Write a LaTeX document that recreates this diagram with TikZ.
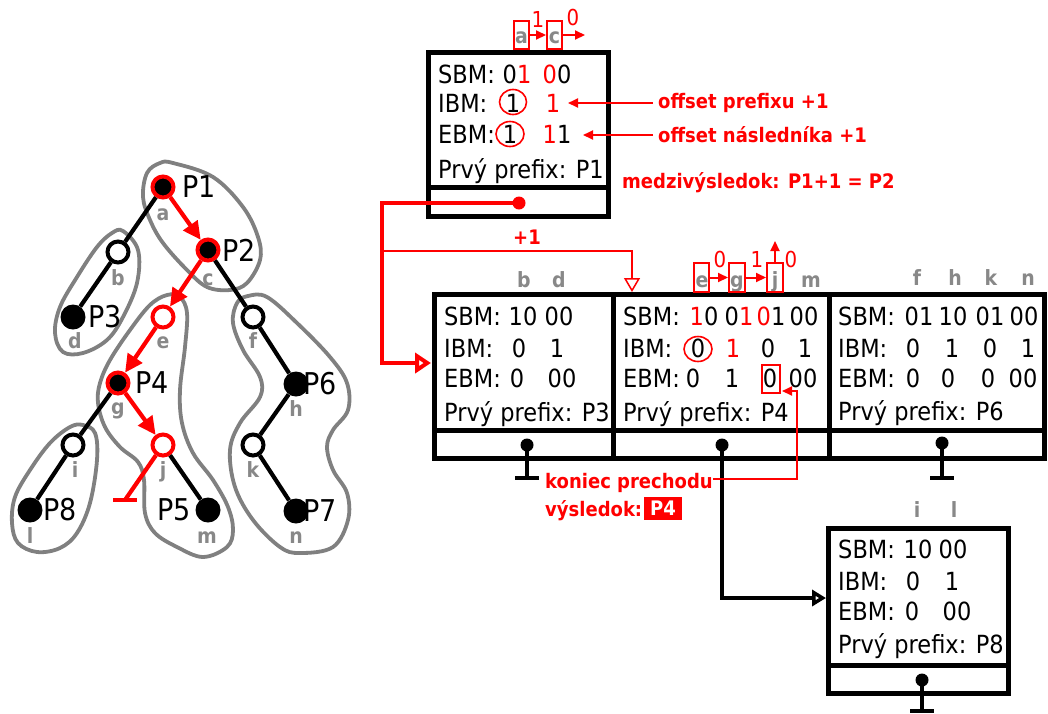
\documentclass[tikz,border=0pt]{standalone}
\usepackage{fontspec}
\setmainfont{DejaVu Sans}[FakeStretch=0.9]
\usetikzlibrary{arrows.meta}
\definecolor{blobgray}{RGB}{128,128,128}
\definecolor{labgray}{RGB}{136,136,136}
\begin{document}
\begin{tikzpicture}[x=1pt,y=-1pt,
  blob/.style={draw=blobgray,line width=3.8pt},
  tedge/.style={line width=4.2pt},
  redge/.style={draw=red,line width=4.2pt,-{Triangle[length=18pt,width=17pt]}},
  wn/.style={circle,draw=black,fill=white,line width=4pt,minimum size=21pt,inner sep=0pt},
  rwn/.style={wn,draw=red},
  bn/.style={circle,fill=black,minimum size=25pt,inner sep=0pt},
  rbn/.style={circle,fill=black,draw=red,line width=4pt,minimum size=21pt,inner sep=0pt},
  plab/.style={font=\fontsize{30}{32}\selectfont,inner sep=0pt},
  glab/.style={font=\bfseries\fontsize{21}{23}\selectfont,text=labgray,inner sep=0pt,anchor=base},
  tx/.style={font=\fontsize{25}{28}\selectfont,inner sep=0pt,anchor=base west},
  dg/.style={font=\fontsize{25}{28}\selectfont,inner sep=0pt,anchor=base},
  rlab/.style={font=\bfseries\fontsize{20}{22}\selectfont,text=red,inner sep=0pt},
  smr/.style={font=\fontsize{22}{24}\selectfont,text=red,inner sep=0pt},
  boxframe/.style={draw,line width=5pt},
  thinr/.style={draw=red,line width=2pt},
  rbox/.style={draw=red,line width=2pt,minimum width=15pt,minimum height=28pt,inner sep=0pt},
  ringmark/.style={draw=red,line width=1.6pt},
  ptr/.style={line width=4.5pt},
  dotb/.style={circle,fill=black,minimum size=13pt,inner sep=0pt},
  dotr/.style={circle,fill=red,minimum size=13pt,inner sep=0pt},
  smallarrow/.style={thinr,-{Triangle[length=10pt,width=9pt]}}
]
\useasboundingbox (0,0) rectangle (1048,713);

% ---------- blobs ----------
\draw[blob] plot[smooth cycle,tension=0.6] coordinates {(123,231) (138,250) (137,283) (123,317) (107,340) (83,353) (63,352) (55,333) (60,307) (77,277) (97,247) (112,233)};
\draw[blob] plot[smooth cycle,tension=0.6] coordinates {(173,163) (213,177) (243,207) (258,237) (260,260) (247,283) (230,290) (207,287) (187,270) (163,243) (150,220) (143,197) (147,173) (160,163)};
\draw[blob] plot[smooth cycle,tension=0.6] coordinates {(144,480) (138,462) (120,447) (105,427) (98,403) (100,383) (110,360) (130,330) (150,305) (167,295) (180,297) (187,313) (185,347) (180,390) (182,423) (193,453) (213,480) (228,507) (233,530) (227,547) (203,557) (177,547) (155,533) (145,513)};
\draw[blob] plot[smooth cycle,tension=0.6] coordinates {(248,296) (267,297) (297,323) (330,357) (347,383) (348,410) (333,430) (327,447) (333,470) (347,493) (348,520) (333,547) (300,553) (280,547) (253,520) (235,487) (230,450) (240,423) (260,397) (260,377) (243,350) (233,323) (237,303)};
\draw[blob] plot[smooth cycle,tension=0.6] coordinates {(83,425) (95,433) (97,460) (90,503) (77,533) (60,548) (37,552) (18,543) (12,523) (15,497) (30,470) (50,443) (70,427)};

% ---------- tree nodes ----------
\node[rbn] (a) at (163,187) {};
\node[wn]  (b) at (118,252) {};
\node[rbn] (c) at (208,250) {};
\node[bn]  (d) at (73,317) {};
\node[rwn] (e) at (163,317) {};
\node[wn]  (f) at (253,317) {};
\node[rbn] (g) at (118,383) {};
\node[bn]  (h) at (296,384) {};
\node[wn]  (i) at (73,445) {};
\node[rwn] (j) at (163,445) {};
\node[wn]  (k) at (253,445) {};
\node[bn]  (l) at (30,510) {};
\node[bn]  (m) at (208,510) {};
\node[bn]  (n) at (296,511) {};

\draw[tedge] (a)--(b) (b)--(d) (c)--(f) (f)--(h) (h)--(k) (k)--(n) (g)--(i) (i)--(l) (j)--(m);
\draw[redge] (a)--(c);
\draw[redge] (c)--(e);
\draw[redge] (e)--(g);
\draw[redge] (g)--(j);
\coordinate (jt) at (125,500);
\draw[red,line width=4.2pt] (j)--(jt);
\draw[red,line width=4.2pt] ([xshift=-12pt]jt)--([xshift=12pt]jt);

% P labels
\node[plab,anchor=west] (p1) at (182,187) {P1};
\node[plab,anchor=west] (p2) at (222,250) {P2};
\node[plab,anchor=west] (p3) at (88,317) {P3};
\node[plab,anchor=west] (p4) at (135,383) {P4};
\node[plab,anchor=west] (p6) at (303,384) {P6};
\node[plab,anchor=west] (p7) at (303,511) {P7};
\node[plab,anchor=west] (p8) at (43,510) {P8};
\node[plab,anchor=east] (p5) at (191,510) {P5};

% gray letters in tree
\node[glab] (ta) at (163,220) {a};
\node[glab] (tb) at (118,285) {b};
\node[glab] (tc) at (208,285) {c};
\node[glab] (td) at (75,348) {d};
\node[glab] (te) at (163,348) {e};
\node[glab] (tf) at (253,348) {f};
\node[glab] (tg) at (118,414) {g};
\node[glab] (th) at (296,416) {h};
\node[glab] (ti) at (75,477) {i};
\node[glab] (tj) at (163,477) {j};
\node[glab] (tk) at (253,477) {k};
\node[glab] (tl) at (30,543) {l};
\node[glab] (tm) at (207,543) {m};
\node[glab] (tn) at (296,543) {n};

% ---------- top box ----------
\draw[boxframe] (428,52) rectangle (608,216);
\draw[boxframe] (428,187) -- (608,187);
\node[tx] (s0) at (438,83) {SBM:};
\node[dg] (s0a) at (517,83) {0\textcolor{red}{1}};
\node[dg] (s0b) at (557,83) {\textcolor{red}{0}0};
\node[tx] (i0) at (438,112) {IBM:};
\node[dg] (i0a) at (513,112) {1};
\draw[ringmark] (513,102) ellipse [x radius=13.5pt, y radius=12.5pt];
\node[dg,text=red] (i0b) at (553,112) {1};
\node[tx] (e0) at (438,143) {EBM:};
\node[dg] (e0a) at (510,143) {1};
\draw[ringmark] (510,134) ellipse [x radius=14pt, y radius=12.5pt];
\node[dg] (e0b) at (557,143) {\textcolor{red}{1}1};
\node[tx] (f0) at (438,178) {Prvý prefix: P1};

% a -> c above the top box
\node[rbox] (ra) at (521.5,35) {};
\node[rbox] (rc) at (554.5,35) {};
\node[glab] at (521.5,43) {a};
\node[glab] at (554.5,43) {c};
\draw[smallarrow] (ra.east) -- (rc.west);
\coordinate (rcend) at (585,35);
\draw[smallarrow] (rc.east) -- (rcend);
\node[smr] (one1) at (538,19) {1};
\node[smr] (zero1) at (573,17) {0};

% annotations at the top box
\node[rlab,anchor=west] (op) at (658,103) {offset prefixu +1};
\node[rlab,anchor=west] (on) at (658,135) {offset následníka +1};
\node[rlab,anchor=west] (mv) at (622,183) {medzivýsledok: P1+1 = P2};
\coordinate (opt) at (568,103);
\coordinate (ont) at (583,135);
\draw[smallarrow] ([xshift=-5pt]op.west) -- (opt);
\draw[smallarrow] ([xshift=-5pt]on.west) -- (ont);

% red pointer from top box to first box
\node[dotr] (tp) at (519,203) {};
\coordinate (rc1) at (382,203);
\coordinate (rc2) at (382,363);
\coordinate (rc3) at (431,363);
\draw[red,line width=4.5pt,-{Triangle[open,length=16pt,width=20pt]}] (tp.center) -- (rc1) -- (rc2) -- (rc3);
% +1 branch
\coordinate (pa) at (382,251);
\coordinate (pb) at (632,251);
\coordinate (pc) at (632,292);
\draw[red,line width=1.5pt,-{Triangle[open,length=14pt,width=16pt]}] (pa) -- (pb) -- (pc);
\node[rlab] (plus) at (527,237) {+1};

% ---------- three boxes ----------
\draw[boxframe] (434,294) rectangle (1044,458);
\draw[boxframe] (434,430) -- (1044,430);
\draw[boxframe] (613,294) -- (613,458);
\draw[boxframe] (829,294) -- (829,458);

% column labels
\node[glab] at (524,287) {b};
\node[glab] at (559,287) {d};
\node[glab] at (702,287) {e};
\node[glab] at (737,287) {g};
\node[glab] at (775,287) {j};
\node[glab] at (811,287) {m};
\node[glab] at (917,285) {f};
\node[glab] at (955,285) {h};
\node[glab] at (991,285) {k};
\node[glab] at (1028,285) {n};

\node[rbox,minimum width=15pt,minimum height=29pt] (re) at (701.5,277.5) {};
\node[rbox,minimum width=16pt,minimum height=29pt] (rg) at (737,277.5) {};
\node[rbox,minimum width=16pt,minimum height=29pt] (rj) at (775,277.5) {};
\draw[smallarrow] (re.east) -- (rg.west);
\draw[smallarrow] (rg.east) -- (rj.west);
\coordinate (rjup) at (775,241);
\draw[smallarrow] (rj.north) -- (rjup);
\node[smr] at (720,259) {0};
\node[smr] at (757,259) {1};
\node[smr] at (791,259) {0};

% left box
\node[tx] at (444,325) {SBM:};
\node[dg] at (523,325) {10};
\node[dg] at (559,325) {00};
\node[tx] at (444,357) {IBM:};
\node[dg] at (519,357) {0};
\node[dg] at (557,357) {1};
\node[tx] at (444,387) {EBM:};
\node[dg] at (517,387) {0};
\node[dg] at (562,387) {00};
\node[tx] at (444,421) {Prvý prefix: P3};

% middle box
\node[tx] at (623,325) {SBM:};
\node[dg] at (704,325) {\textcolor{red}{1}0};
\node[dg] at (739,325) {0\textcolor{red}{1}};
\node[dg] at (771,325) {\textcolor{red}{0}1};
\node[dg] at (804,325) {00};
\node[tx] at (623,357) {IBM:};
\node[dg] at (698,357) {0};
\draw[ringmark] (698,349) ellipse [x radius=14pt, y radius=12.5pt];
\node[dg,text=red] at (733,357) {1};
\node[dg] at (768,357) {0};
\node[dg] at (805,357) {1};
\node[tx] at (623,387) {EBM:};
\node[dg] at (693,387) {0};
\node[dg] at (732,387) {1};
\node[dg] (ez) at (770,387) {0};
\node[rbox,minimum width=18pt,minimum height=28pt] (rez) at (771,379) {};
\node[dg] at (803,387) {00};
\node[tx] at (623,421) {Prvý prefix: P4};

% right box
\node[tx] at (838,325) {SBM:};
\node[dg] at (919,325) {01};
\node[dg] at (953,325) {10};
\node[dg] at (990,325) {01};
\node[dg] at (1024,325) {00};
\node[tx] at (838,357) {IBM:};
\node[dg] at (913,357) {0};
\node[dg] at (952,357) {1};
\node[dg] at (990,357) {0};
\node[dg] at (1028,357) {1};
\node[tx] at (838,387) {EBM:};
\node[dg] at (913,387) {0};
\node[dg] at (948,387) {0};
\node[dg] at (988,387) {0};
\node[dg] at (1023,387) {00};
\node[tx] at (838,420) {Prvý prefix: P6};

% pointers of the three boxes
\node[dotb] (d1) at (527,445) {};
\coordinate (d1e) at (527,478);
\draw[ptr] (d1.center) -- (d1e);
\draw[ptr] ([xshift=-12pt]d1e) -- ([xshift=12pt]d1e);

\node[dotb] (d2) at (722,445) {};
\coordinate (d2a) at (722,598);
\coordinate (d2b) at (826,598);
\draw[ptr,-{Triangle[open,length=14pt,width=16pt]}] (d2.center) -- (d2a) -- (d2b);

\node[dotb] (d3) at (942,443) {};
\coordinate (d3e) at (942,478);
\draw[ptr] (d3.center) -- (d3e);
\draw[ptr] ([xshift=-12pt]d3e) -- ([xshift=12pt]d3e);

% end of traversal annotation
\node[rlab,anchor=base west] (kp) at (545,488) {koniec prechodu};
\coordinate (kv1) at (797,479);
\coordinate (kv2) at (797,391);
\coordinate (kt) at (782,391);
\draw[red,line width=2pt,-{Triangle[length=10pt,width=9pt]}] (kp.east |- kv1) -- (kv1) -- (kv2) -- (kt);
\node[rlab,anchor=base west] (vy) at (545,516) {výsledok:};
\node[fill=red,text=white,font=\bfseries\fontsize{20}{22}\selectfont,inner sep=0pt,minimum width=38pt,minimum height=23pt] (res) at (663,508.5) {P4};

% ---------- bottom box ----------
\draw[boxframe] (828,528) rectangle (1008,693);
\draw[boxframe] (828,665) -- (1008,665);
\node[glab] at (917,517) {i};
\node[glab] at (954,517) {l};
\node[tx] at (838,558) {SBM:};
\node[dg] at (918,558) {10};
\node[dg] at (953,558) {00};
\node[tx] at (838,590) {IBM:};
\node[dg] at (913,590) {0};
\node[dg] at (952,590) {1};
\node[tx] at (838,620) {EBM:};
\node[dg] at (912,620) {0};
\node[dg] at (957,620) {00};
\node[tx] at (838,653) {Prvý prefix: P8};
\node[dotb] (d4) at (922,680) {};
\coordinate (d4e) at (922,711);
\draw[ptr] (d4.center) -- (d4e);
\draw[ptr] ([xshift=-12pt]d4e) -- ([xshift=12pt]d4e);
\end{tikzpicture}
\end{document}
